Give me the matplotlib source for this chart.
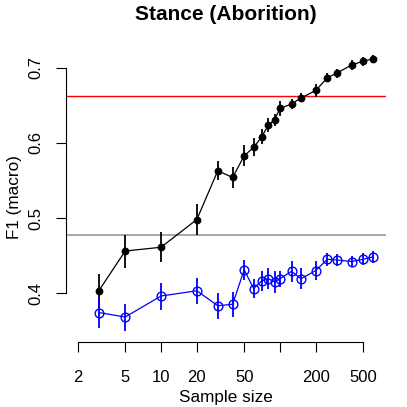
import numpy as np
import matplotlib.pyplot as plt

plt.rcParams['font.family'] = ['Liberation Sans', 'DejaVu Sans']

# sample sizes and scores
sizes = [3, 5, 10, 20, 30, 40, 50, 60, 70, 80, 90, 100, 125, 150, 200, 250, 300, 400, 500, 600]
f1_top = [0.403, 0.456, 0.461, 0.498, 0.563, 0.554, 0.583, 0.594, 0.608, 0.624, 0.631, 0.646,
          0.652, 0.660, 0.670, 0.687, 0.693, 0.704, 0.709, 0.712]
err_top = [0.023, 0.022, 0.020, 0.021, 0.013, 0.014, 0.014, 0.012, 0.010, 0.009, 0.008, 0.010,
           0.007, 0.006, 0.009, 0.006, 0.006, 0.007, 0.006, 0.005]
f1_bottom = [0.374, 0.368, 0.396, 0.403, 0.383, 0.385, 0.431, 0.406, 0.416, 0.419, 0.415, 0.419,
             0.429, 0.419, 0.430, 0.445, 0.444, 0.442, 0.445, 0.448]
err_bottom = [0.021, 0.018, 0.018, 0.017, 0.017, 0.017, 0.013, 0.013, 0.013, 0.014, 0.015, 0.011,
              0.014, 0.014, 0.013, 0.009, 0.008, 0.007, 0.008, 0.008]
red_level = 0.662
gray_level = 0.477

xticks = [2, 5, 10, 20, 50, 100, 200, 500]
xticklabels = ['2', '5', '10', '20', '50', '', '200', '500']
yticks = [0.4, 0.5, 0.6, 0.7]

W = 407
fig = plt.figure(figsize=(W / 100, W / 100), dpi=100)
ax = fig.add_axes([66 / W, 1 - 342 / W, (386 - 66) / W, (342 - 52) / W])

ax.axhline(red_level, color='red', lw=1.0)
ax.axhline(gray_level, color='#a0a0a0', lw=1.3)

ax.vlines(sizes, np.array(f1_top) - err_top, np.array(f1_top) + err_top, color='black', lw=1.3)
ax.plot(sizes, f1_top, color='black', lw=0.9, marker='o', ms=4.6)

ax.vlines(sizes, np.array(f1_bottom) - err_bottom, np.array(f1_bottom) + err_bottom,
          color='blue', lw=1.3)
ax.plot(sizes, f1_bottom, color='blue', lw=0.9, marker='o', ms=6.3, mfc='none', mew=1.0)

ax.set_xscale('log')
ax.set_xlim(1.59, 778)
ax.set_ylim(0.3347, 0.7213)
ax.set_xticks(xticks)
ax.set_xticklabels(xticklabels)
ax.minorticks_off()
ax.set_yticks(yticks)
ax.set_yticklabels(['0.4', '0.5', '0.6', '0.7'], rotation=90, va='center')

for s in ['top', 'right']:
    ax.spines[s].set_visible(False)
ax.spines['bottom'].set_bounds(2, 500)
ax.spines['left'].set_bounds(0.4, 0.7)
for s in ['bottom', 'left']:
    ax.spines[s].set_linewidth(0.8)
ax.tick_params(direction='out', length=7.5, width=0.8, labelsize=12)
ax.tick_params(axis='x', pad=13)
ax.tick_params(axis='y', pad=9)

ax.set_xlabel('Sample size', fontsize=12.3, labelpad=3)
ax.set_ylabel('F1 (macro)', fontsize=12.3, labelpad=4.4)
ax.set_title('Stance (Aborition)', fontsize=15, fontweight='bold', pad=23.4)

fig.savefig('out.png', dpi=100)
